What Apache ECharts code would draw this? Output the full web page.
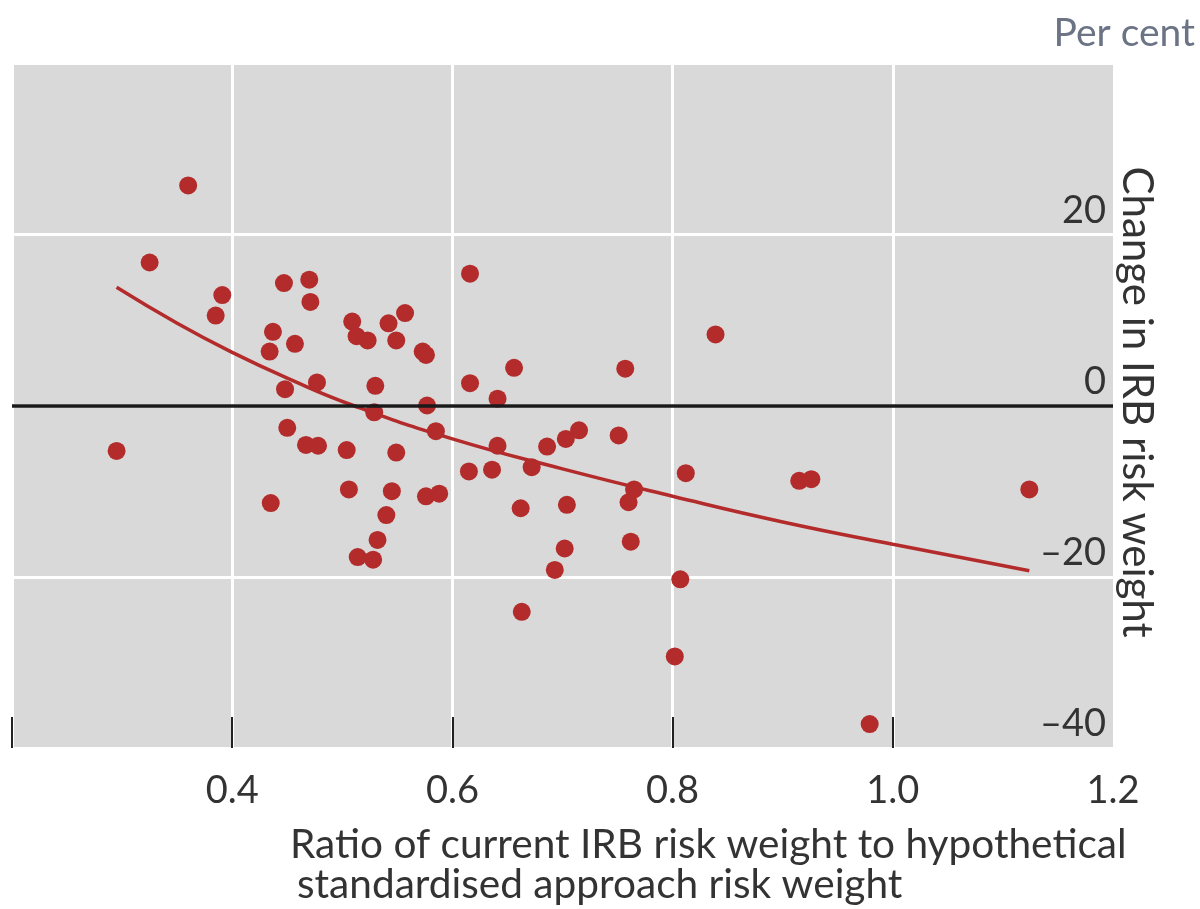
<!DOCTYPE html>
<html>
<head>
<meta charset="utf-8">
<title>IRB risk weights</title>
<script src="https://cdn.jsdelivr.net/npm/echarts@6/dist/echarts.min.js"></script>
<style>
  html, body { margin: 0; padding: 0; background: #fff; }
  #main { width: 1200px; height: 909px; }
</style>
</head>
<body>
<div id="main"></div>
<script>
// ratio of current IRB risk weight to hypothetical SA risk weight
const ratio = [
  0.295, 0.325, 0.360, 0.385, 0.391, 0.434, 0.437, 0.435, 0.447, 0.448,
  0.450, 0.457, 0.467, 0.470, 0.471, 0.477, 0.478, 0.504, 0.506, 0.509,
  0.513, 0.514, 0.523, 0.528, 0.530, 0.529, 0.532, 0.540, 0.542, 0.545,
  0.549, 0.549, 0.557, 0.573, 0.576, 0.577, 0.576, 0.585, 0.588, 0.616,
  0.616, 0.615, 0.636, 0.641, 0.641, 0.656, 0.662, 0.663, 0.672, 0.686,
  0.693, 0.702, 0.704, 0.703, 0.715, 0.751, 0.757, 0.760, 0.762, 0.765,
  0.802, 0.807, 0.812, 0.839, 0.915, 0.926, 0.979, 1.124
];
// change in IRB risk weight, per cent
const change = [
  -5.3, 16.7, 25.7, 10.5, 12.9, 6.3, 8.6, -11.4, 14.3, 1.9,
  -2.6, 7.2, -4.6, 14.7, 12.1, 2.7, -4.7, -5.2, -9.8, 9.8,
  8.1, -17.7, 7.6, -18.0, 2.3, -0.8, -15.7, -12.8, 9.6, -10.0,
  7.6, -5.5, 10.8, 6.3, 5.9, 0.0, -10.6, -3.0, -10.3, 15.4,
  2.6, -7.7, -7.5, 0.8, -4.7, 4.4, -12.0, -24.1, -7.2, -4.8,
  -19.2, -16.7, -11.6, -3.9, -2.9, -3.5, 4.3, -11.3, -15.9, -9.8,
  -29.3, -20.3, -7.9, 8.3, -8.8, -8.6, -37.2, -9.8
];
// fitted curve
const fitRatio = [0.295, 0.35, 0.4, 0.45, 0.51, 0.6, 0.7, 0.8, 0.9, 1.0, 1.124];
const fitChange = [13.8, 9.6, 6.2, 3.2, 0, -3.9, -7.4, -10.6, -13.6, -16.2, -19.3];

const xTicks = [0.2, 0.4, 0.6, 0.8, 1.0];
const xLabels = [0.4, 0.6, 0.8, 1.0, 1.2];
const yLabels = [-40, -20, 0, 20];

const red = '#b32b2b';
const font = 'Lato';

const chart = echarts.init(document.getElementById('main'));

const option = {
  animation: false,
  grid: {
    left: 12, top: 63, right: 87, bottom: 161,
    show: true, backgroundColor: '#d9d9d9', borderWidth: 0
  },
  xAxis: {
    type: 'value', min: 0.2, max: 1.2, interval: 0.2,
    axisLine: { show: false, onZero: false },
    axisTick: {
      show: true, inside: true, length: 31, customValues: xTicks,
      lineStyle: { color: '#222', width: 2 }
    },
    axisLabel: {
      customValues: xLabels, margin: 24,
      fontFamily: font, fontSize: 38, color: '#333',
      formatter: v => v.toFixed(1)
    },
    splitLine: { show: true, lineStyle: { color: '#fff', width: 3 } }
  },
  yAxis: {
    type: 'value', position: 'right', min: -40, max: 40, interval: 20,
    axisLine: { show: false },
    axisTick: { show: false },
    axisLabel: {
      inside: true, customValues: yLabels, margin: 7,
      verticalAlign: 'bottom', align: 'right', padding: [0, 0, 5, 0],
      fontFamily: font, fontSize: 38, color: '#333',
      formatter: v => (v < 0 ? '\u2013' + Math.abs(v) : String(v))
    },
    splitLine: { show: true, lineStyle: { color: '#fff', width: 3 } }
  },
  graphic: [
    {
      type: 'text', right: 5, top: 14,
      style: { text: 'Per cent', fontFamily: font, fontSize: 39, fill: '#6b7385' }
    },
    {
      type: 'text', x: 1137, y: 402, rotation: -Math.PI / 2,
      style: {
        text: 'Change in IRB risk weight', fontFamily: font, fontSize: 42,
        fill: '#333', align: 'center', verticalAlign: 'middle'
      }
    },
    {
      type: 'text', x: 290, y: 845,
      style: {
        text: 'Ratio of current IRB risk weight to hypothetical', fontFamily: font,
        fontSize: 40.6, fill: '#333', align: 'left', verticalAlign: 'middle'
      }
    },
    {
      type: 'text', x: 297, y: 885,
      style: {
        text: 'standardised approach risk weight', fontFamily: font,
        fontSize: 40.6, fill: '#333', align: 'left', verticalAlign: 'middle'
      }
    }
  ],
  series: [
    {
      type: 'line',
      data: fitRatio.map((x, i) => [x, fitChange[i]]),
      smooth: true, showSymbol: false, z: 3,
      lineStyle: { color: red, width: 3.5 },
      markLine: {
        silent: true, symbol: 'none', label: { show: false },
        lineStyle: { color: '#1a1a1a', width: 3.5, type: 'solid' },
        data: [{ yAxis: 0 }]
      }
    },
    {
      type: 'scatter',
      data: ratio.map((x, i) => [x, change[i]]),
      symbolSize: 18, z: 4,
      itemStyle: { color: red, opacity: 1 }
    }
  ]
};

chart.setOption(option);
</script>
</body>
</html>
